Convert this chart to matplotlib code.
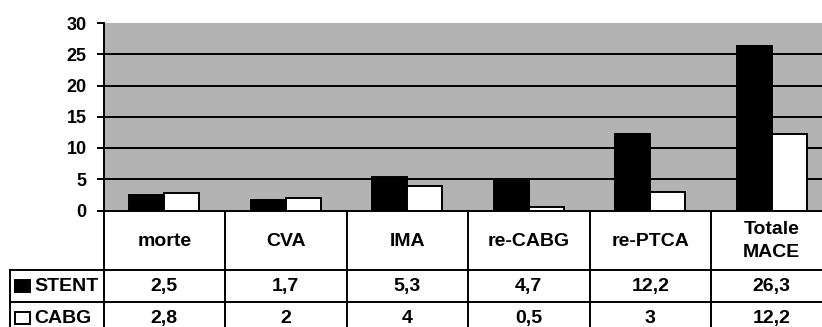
import matplotlib
matplotlib.use("Agg")
import matplotlib.pyplot as plt
from matplotlib.patches import Rectangle

categories = ["morte", "CVA", "IMA", "re-CABG", "re-PTCA", "Totale\nMACE"]
stent = [2.5, 1.7, 5.3, 4.7, 12.2, 26.3]
cabg = [2.8, 2.0, 4.0, 0.5, 3.0, 12.2]
stent_labels = ["2,5", "1,7", "5,3", "4,7", "12,2", "26,3"]
cabg_labels = ["2,8", "2", "4", "0,5", "3", "12,2"]
series_names = ["STENT", "CABG"]
yticks = [0, 5, 10, 15, 20, 25, 30]

plt.rcParams['font.family'] = ['Liberation Sans', 'DejaVu Sans']
plt.rcParams['font.weight'] = 'bold'

W, H = 822, 327
fig = plt.figure(figsize=(W / 100, H / 100), dpi=100)

# layout in pixels
x0 = 103.5
colw = 121.5
y_top = 23
y_zero = 210.5
row1 = 270
row2 = 301.7
row3 = 333.4
left_tab = 10
lw = 1.4

ax = fig.add_axes([x0 / W, (H - y_zero) / H, 6 * colw / W, (y_zero - y_top) / H])
ax.set_facecolor("#b3b3b3")
ax.set_xlim(-0.5, 5.5)
ax.set_ylim(0, 30)
bw = 35 / colw
xs = list(range(len(categories)))
ax.bar([x - bw / 2 for x in xs], stent, width=bw, color="black", edgecolor="black", linewidth=lw, zorder=3)
ax.bar([x + bw / 2 for x in xs], cabg, width=bw, color="white", edgecolor="black", linewidth=lw, zorder=3)
for t in yticks[1:-1]:
    ax.axhline(t, color="black", linewidth=lw, zorder=1)
ax.set_yticks(yticks)
ax.set_yticklabels([str(t) for t in yticks], fontsize=13, fontweight="bold")
ax.tick_params(axis="y", direction="out", length=5, width=lw, pad=7, colors="black")
ax.set_xticks([])
for s in ["top", "right"]:
    ax.spines[s].set_visible(False)
ax.spines["left"].set_linewidth(lw)
ax.spines["bottom"].set_linewidth(lw)

# table
tab = fig.add_axes([0, 0, 1, 1])
tab.set_xlim(0, W)
tab.set_ylim(H, 0)
tab.axis("off")
n = len(categories)
x_end = x0 + n * colw
for i in range(n + 1):
    xc = x0 + i * colw
    tab.plot([xc, xc], [y_zero, row3], color="black", linewidth=lw)
tab.plot([left_tab, left_tab], [row1, row3], color="black", linewidth=lw)
for yy in [row1, row2, row3]:
    tab.plot([left_tab, x_end], [yy, yy], color="black", linewidth=lw)

fs = 14
for i, c in enumerate(categories):
    xc = x0 + (i + 0.5) * colw
    tab.text(xc, (y_zero + row1) / 2 + 1, c, ha="center", va="center", fontsize=fs,
             fontweight="bold", linespacing=1.45)
    tab.text(xc, (row1 + row2) / 2 + 1, stent_labels[i], ha="center", va="center", fontsize=fs, fontweight="bold")
    tab.text(xc, (row2 + row3) / 2 + 1, cabg_labels[i], ha="center", va="center", fontsize=fs, fontweight="bold")

# legend keys
for (yy0, yy1), name, fc in [((row1, row2), series_names[0], "black"), ((row2, row3), series_names[1], "white")]:
    yc = (yy0 + yy1) / 2
    tab.add_patch(Rectangle((15, yc - 5.5), 15, 12, facecolor=fc, edgecolor="black", linewidth=lw))
    tab.text(34.5, yc + 1, name, ha="left", va="center", fontsize=fs, fontweight="bold")

fig.savefig("out.png", dpi=100)
